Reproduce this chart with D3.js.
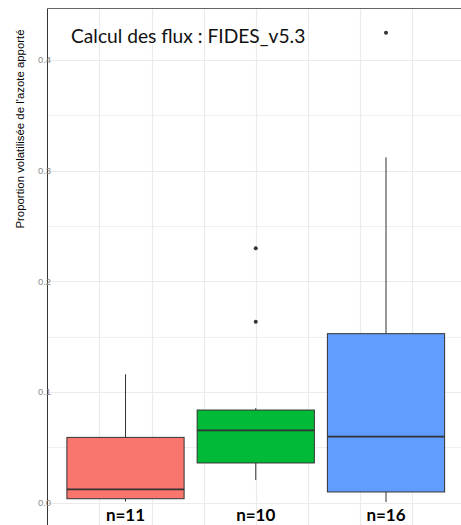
<!DOCTYPE html>
<html>
<head>
<meta charset="utf-8">
<script src="https://cdn.jsdelivr.net/npm/d3@7"></script>
<style>
  html, body { margin: 0; padding: 0; background: #ffffff; }
  svg { display: block; }
</style>
</head>
<body>
<div id="chart"></div>
<script>
// Volatilised share of applied nitrogen, one box per group
const groups = ["groupe 1", "groupe 2", "groupe 3"];
const counts = [11, 10, 16];
const whiskerLow = [0.001, 0.0205, 0.0006];
const q1 = [0.0036, 0.0359, 0.0097];
const medians = [0.0121, 0.0654, 0.0596];
const q3 = [0.059, 0.0837, 0.1527];
const whiskerHigh = [0.116, 0.0855, 0.312];
const outliers = [[], [0.1635, 0.2298], [0.4246]];
const yTicks = [0, 0.1, 0.2, 0.3, 0.4];
const yTickLabels = ["0.0", "0.1", "0.2", "0.3", "0.4"];
const yMinorTicks = [0.05, 0.15, 0.25, 0.35];
const xGrid = [0.8, 1.2, 1.6, 2.0, 2.4, 2.8, 3.2];

const title = "Calcul des flux : FIDES_v5.3";
const yTitle = "Proportion volatilisée de l'azote apporté";
const palette = ["#F8766D", "#00BA38", "#619CFF"];

const W = 461, H = 525;
const panel = { left: 47.5, top: 8.5 };

const svg = d3.select("#chart").append("svg")
  .attr("width", W).attr("height", H);

// Group position (1..n) to pixels
const x = d3.scaleLinear().domain([1, 3]).range([125.5, 386]);
const boxW = x(1.9) - x(1);
const y = d3.scaleLinear().domain([0, 0.4]).range([502.7, 59.9]);

const data = groups.map((g, i) => ({
  name: g, pos: i + 1, n: counts[i],
  lo: whiskerLow[i], q1: q1[i], med: medians[i], q3: q3[i], hi: whiskerHigh[i],
  out: outliers[i], fill: palette[i]
}));

// grid
const grid = svg.append("g");
grid.selectAll("line.hmin").data(yMinorTicks).join("line")
  .attr("x1", panel.left).attr("x2", W)
  .attr("y1", d => Math.round(y(d)) + 0.5).attr("y2", d => Math.round(y(d)) + 0.5)
  .attr("stroke", "#efefef").attr("stroke-width", 1);
grid.selectAll("line.hmaj").data(yTicks).join("line")
  .attr("x1", panel.left).attr("x2", W)
  .attr("y1", d => Math.round(y(d)) + 0.5).attr("y2", d => Math.round(y(d)) + 0.5)
  .attr("stroke", "#ebebeb").attr("stroke-width", 1.2);
grid.selectAll("line.v").data(xGrid).join("line")
  .attr("x1", d => Math.round(x(d)) + 0.5).attr("x2", d => Math.round(x(d)) + 0.5)
  .attr("y1", panel.top).attr("y2", H)
  .attr("stroke", "#ebebeb").attr("stroke-width", 1.2);

// boxes
const box = svg.append("g").selectAll("g").data(data).join("g");
box.append("line")
  .attr("x1", d => x(d.pos)).attr("x2", d => x(d.pos))
  .attr("y1", d => y(d.hi)).attr("y2", d => y(d.q3))
  .attr("stroke", "#333").attr("stroke-width", 1);
box.append("line")
  .attr("x1", d => x(d.pos)).attr("x2", d => x(d.pos))
  .attr("y1", d => y(d.q1)).attr("y2", d => y(d.lo))
  .attr("stroke", "#333").attr("stroke-width", 1);
box.append("rect")
  .attr("x", d => x(d.pos) - boxW / 2).attr("width", boxW)
  .attr("y", d => y(d.q3)).attr("height", d => y(d.q1) - y(d.q3))
  .attr("fill", d => d.fill).attr("stroke", "#333").attr("stroke-width", 1);
box.append("line")
  .attr("x1", d => x(d.pos) - boxW / 2).attr("x2", d => x(d.pos) + boxW / 2)
  .attr("y1", d => y(d.med)).attr("y2", d => y(d.med))
  .attr("stroke", "#333").attr("stroke-width", 1.8);
box.selectAll("circle").data(d => d.out.map(v => ({ pos: d.pos, v }))).join("circle")
  .attr("cx", d => x(d.pos)).attr("cy", d => y(d.v)).attr("r", 2)
  .attr("fill", "#333");

// panel edges
svg.append("line").attr("x1", panel.left).attr("x2", panel.left)
  .attr("y1", panel.top).attr("y2", H)
  .attr("stroke", "#333").attr("stroke-width", 1);
svg.append("line").attr("x1", panel.left).attr("x2", W)
  .attr("y1", panel.top).attr("y2", panel.top)
  .attr("stroke", "#666").attr("stroke-width", 1);

// y tick labels
svg.append("g").selectAll("text").data(yTicks).join("text")
  .attr("x", 44.5).attr("y", d => y(d))
  .attr("dy", "0.35em").attr("text-anchor", "middle")
  .attr("font-family", "Liberation Sans, Arial, sans-serif")
  .attr("font-size", 9.5).attr("fill", "#8a8a8a")
  .text((d, i) => yTickLabels[i]);

// y title
svg.append("text")
  .attr("transform", "translate(23.5,129) rotate(-90)")
  .attr("text-anchor", "middle")
  .attr("font-family", "Liberation Sans, Arial, sans-serif")
  .attr("font-size", 11.4).attr("fill", "#000")
  .text(yTitle);

// title
svg.append("text")
  .attr("x", 71).attr("y", 42.5)
  .attr("font-family", "Lato, sans-serif")
  .attr("font-size", 19.2).attr("fill", "#111")
  .text(title);

// counts under each box
svg.append("g").selectAll("text").data(data).join("text")
  .attr("x", d => x(d.pos)).attr("y", 520.5)
  .attr("text-anchor", "middle")
  .attr("font-family", "Lato, sans-serif")
  .attr("font-weight", "bold")
  .attr("font-size", 17).attr("fill", "#000")
  .text(d => "n=" + d.n);
</script>
</body>
</html>
